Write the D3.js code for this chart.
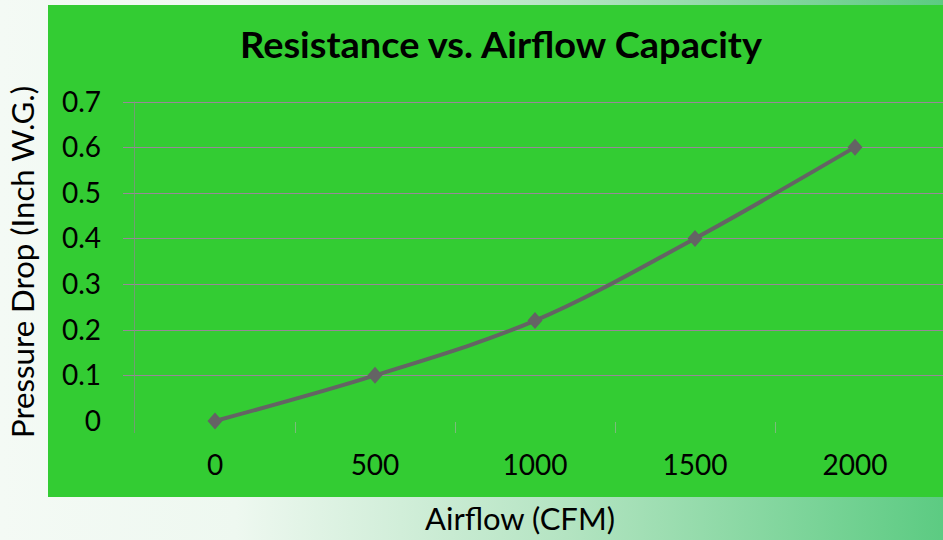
<!DOCTYPE html>
<html lang="en">
<head>
  <meta charset="UTF-8">
  <title>Resistance vs. Airflow Capacity</title>
  <script src="https://d3js.org/d3.v7.min.js"></script>
</head>
<body>
</body>
<style>
  body {
    margin: 0;
    padding: 0;
  }

  text {
    font-family: Lato, "Open Sans", sans-serif;
    fill: #000;
  }
</style>
<script>
  const width = 943
  const height = 540

  // chart data
  const airflow = ['0', '500', '1000', '1500', '2000']
  const pressureDrop = [0, 0.1, 0.22, 0.4, 0.6]
  const yTicks = [0, 0.1, 0.2, 0.3, 0.4, 0.5, 0.6, 0.7]

  const svg = d3.select('body').append('svg')
    .attr('width', width)
    .attr('height', height)

  const defs = svg.append('defs')
  const grad = defs.append('linearGradient')
    .attr('id', 'bg')
    .attr('x1', 0).attr('x2', 1).attr('y1', 0).attr('y2', 0)
  grad.append('stop').attr('offset', '0%').attr('stop-color', '#f4faf5')
  grad.append('stop').attr('offset', '25%').attr('stop-color', '#eef8f0')
  grad.append('stop').attr('offset', '60%').attr('stop-color', '#b4e4c2')
  grad.append('stop').attr('offset', '100%').attr('stop-color', '#5ccb82')

  svg.append('rect')
    .attr('width', width).attr('height', height)
    .attr('fill', 'url(#bg)')

  // green panel
  svg.append('rect')
    .attr('x', 48).attr('y', 5)
    .attr('width', width - 48).attr('height', 492)
    .attr('fill', '#33cc33')

  const x = d3.scaleBand()
    .domain(airflow)
    .range([135, 935])

  const y = d3.scaleLinear()
    .domain([0, 0.7])
    .range([421, 101.5])

  // horizontal gridlines
  svg.append('g')
    .selectAll('line')
    .data(yTicks.filter(d => d > 0))
    .join('line')
    .attr('x1', 123)
    .attr('x2', width)
    .attr('y1', d => Math.round(y(d)) + 0.5)
    .attr('y2', d => Math.round(y(d)) + 0.5)
    .attr('stroke', '#988898')
    .attr('stroke-width', 1)

  // y axis line
  svg.append('line')
    .attr('x1', 134.5).attr('x2', 134.5)
    .attr('y1', y(0.7)).attr('y2', 433)
    .attr('stroke', '#8c8c8c')
    .attr('stroke-opacity', 0.7)

  // x ticks between categories
  svg.append('g')
    .selectAll('line')
    .data(airflow.slice(1))
    .join('line')
    .attr('x1', d => Math.round(x(d)) + 0.5)
    .attr('x2', d => Math.round(x(d)) + 0.5)
    .attr('y1', 422)
    .attr('y2', 433)
    .attr('stroke', '#8cb88c')
    .attr('stroke-opacity', 0.8)

  // y tick labels
  svg.append('g')
    .selectAll('text')
    .data(yTicks)
    .join('text')
    .attr('x', 101)
    .attr('y', d => y(d) + 10)
    .attr('text-anchor', 'end')
    .attr('font-size', 28)
    .text(d => d === 0 ? '0' : d.toFixed(1))

  // x tick labels
  svg.append('g')
    .selectAll('text')
    .data(airflow)
    .join('text')
    .attr('x', d => x(d) + x.bandwidth() / 2)
    .attr('y', 475)
    .attr('text-anchor', 'middle')
    .attr('font-size', 28)
    .text(d => d)

  // line
  const line = d3.line()
    .x((d, i) => x(airflow[i]) + x.bandwidth() / 2)
    .y(d => y(d))
    .curve(d3.curveCatmullRom.alpha(0.5))

  svg.append('path')
    .datum(pressureDrop)
    .attr('d', line)
    .attr('fill', 'none')
    .attr('stroke', '#646464')
    .attr('stroke-width', 4)
    .attr('stroke-linecap', 'round')

  // diamond markers
  svg.append('g')
    .selectAll('path')
    .data(pressureDrop)
    .join('path')
    .attr('transform', (d, i) => `translate(${x(airflow[i]) + x.bandwidth() / 2},${y(d)})`)
    .attr('d', 'M0,-8.5L7.5,0L0,8.5L-7.5,0Z')
    .attr('fill', '#646464')

  // title
  svg.append('text')
    .attr('x', 501)
    .attr('y', 58)
    .attr('text-anchor', 'middle')
    .attr('font-size', 36)
    .attr('font-weight', 'bold')
    .attr('textLength', 522)
    .attr('lengthAdjust', 'spacingAndGlyphs')
    .text('Resistance vs. Airflow Capacity')

  // axis titles
  svg.append('text')
    .attr('x', 520)
    .attr('y', 530)
    .attr('text-anchor', 'middle')
    .attr('font-size', 30)
    .attr('textLength', 190)
    .attr('lengthAdjust', 'spacingAndGlyphs')
    .text('Airflow (CFM)')

  svg.append('text')
    .attr('transform', 'translate(34,262) rotate(-90)')
    .attr('text-anchor', 'middle')
    .attr('font-size', 30)
    .attr('textLength', 352)
    .attr('lengthAdjust', 'spacingAndGlyphs')
    .text('Pressure Drop (Inch W.G.)')
</script>
</html>
